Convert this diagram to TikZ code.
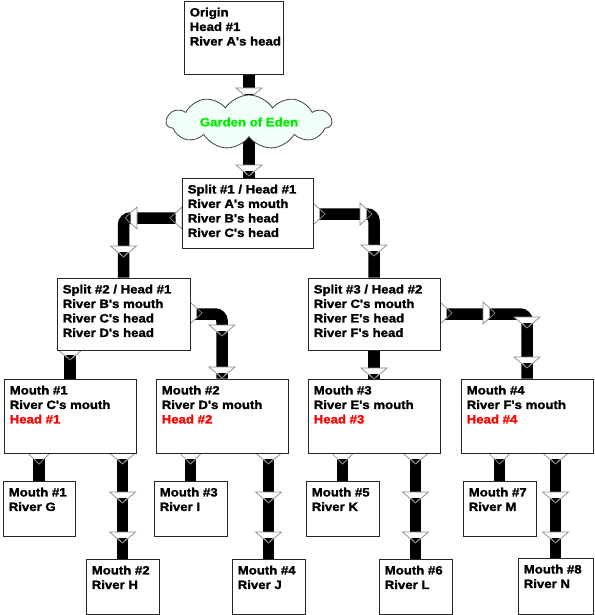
\documentclass[tikz,border=0pt]{standalone}
\usepackage{fontspec}
\setmainfont{Liberation Sans}
\newfontfamily\rf{Liberation Sans}[UprightFont=* Bold, BoldFont=* Bold, FakeStretch=1.1, FakeBold=1.6]
\usetikzlibrary{shapes.symbols}
\pgfdeclarelayer{bgpaper}
\pgfdeclarelayer{bars}
\pgfdeclarelayer{tris}
\pgfsetlayers{bgpaper,bars,tris,main}
\definecolor{edenfill}{HTML}{F2FFF8}
\definecolor{edengreen}{HTML}{00EE00}
\definecolor{trigray}{HTML}{8A8A8A}
\tikzset{
  boxst/.style={draw=black!85, line width=0.9pt, fill=white, rectangle, inner sep=0pt},
  txt/.style={inner sep=0pt, align=left, font=\rf\fontsize{12}{14.5}\selectfont},
  bar/.style={line width=11.5pt, black, rounded corners=7pt},
  tri/.style={fill=white, draw=trigray, line width=0.7pt, line join=miter},
}
% box: name, left x, top y, width, height, text
\newcommand\bx[6]{%
  \node[boxst, minimum width=#4pt, minimum height=#5pt] (#1) at (#2+#4/2,#3+#5/2) {};
  \node[txt, anchor=north west] (#1-t) at ([xshift=6pt,yshift=-7pt]#1.north west) {#6};}
% triangles: pointing down (x, top y, half width)
\newcommand\tdn[3]{%
  \filldraw[tri] (#1-#3,#2) -- (#1+#3,#2) -- (#1,#2+11) -- cycle;
  \fill[black] (#1-4.5,#2+6) -- (#1+4.5,#2+6) -- (#1,#2+10.4) -- cycle;}
% pointing right (tail x, centre y, half height)
\newcommand\trt[3]{%
  \filldraw[tri] (#1,#2-#3) -- (#1,#2+#3) -- (#1+12,#2) -- cycle;
  \fill[black] (#1+6.5,#2-4.5) -- (#1+6.5,#2+4.5) -- (#1+11.4,#2) -- cycle;}
% pointing left (tail x, centre y, half height)
\newcommand\tlt[3]{%
  \filldraw[tri] (#1,#2-#3) -- (#1,#2+#3) -- (#1-12,#2) -- cycle;
  \fill[black] (#1-6.5,#2-4.5) -- (#1-6.5,#2+4.5) -- (#1-11.4,#2) -- cycle;}
\newcommand\redh[1]{\textcolor{red}{#1}}
\begin{document}
\begin{tikzpicture}[x=1pt,y=-1pt]
\useasboundingbox (0,0) rectangle (594,615);
\begin{pgfonlayer}{bgpaper}
\fill[white] (0,0) rectangle (594,615);
\end{pgfonlayer}

\bx{origin}{184}{1}{99}{73}{Origin\\Head \#1\\River A's head}
\bx{split1}{182}{178}{131}{70}{Split \#1 / Head \#1\\River A's mouth\\River B's head\\River C's head}
\bx{split2}{57}{278}{133}{72}{Split \#2 / Head \#1\\River B's mouth\\River C's head\\River D's head}
\bx{split3}{308}{278}{132}{72}{Split \#3 / Head \#2\\River C's mouth\\River E's head\\River F's head}
\bx{mouth1}{4}{379}{132}{74}{Mouth \#1\\River C's mouth\\\redh{Head \#1}}
\bx{mouth2}{156}{379}{132}{74}{Mouth \#2\\River D's mouth\\\redh{Head \#2}}
\bx{mouth3}{308}{379}{132}{74}{Mouth \#3\\River E's mouth\\\redh{Head \#3}}
\bx{mouth4}{461}{379}{132}{74}{Mouth \#4\\River F's mouth\\\redh{Head \#4}}
\bx{g}{3}{481}{72}{55}{Mouth \#1\\River G}
\bx{h}{86}{559}{73}{55}{Mouth \#2\\River H}
\bx{i}{154}{481}{73}{55}{Mouth \#3\\River I}
\bx{j}{232}{559}{73}{55}{Mouth \#4\\River J}
\bx{k}{306}{481}{73}{55}{Mouth \#5\\River K}
\bx{l}{379}{559}{73}{55}{Mouth \#6\\River L}
\bx{m}{463}{481}{73}{55}{Mouth \#7\\River M}
\bx{n}{518}{558}{75}{56}{Mouth \#8\\River N}

\node[cloud, cloud puffs=11, cloud puff arc=115, aspect=3, draw=black!75, line width=0.8pt,
      fill=edenfill, minimum width=165pt, minimum height=54pt, inner sep=0pt] (cloud) at (249,122) {};
\node[inner sep=0pt, text=edengreen, font=\rf\fontsize{12}{14}\selectfont] (cloud-t) at (cloud.center) {Garden of Eden};

\begin{pgfonlayer}{bars}
\draw[bar] (origin.south -| cloud.north) -- (cloud.north);
\draw[bar] (cloud.south) -- (cloud.south |- split1.north);
\draw[bar] ([yshift=-5pt]split1.west) -| (split2.north);
\draw[bar] ([yshift=-1pt]split1.east) -| (split3.north);
\draw[bar] (split2.east) -| (mouth2.north);
\draw[bar] (mouth1.north |- split2.south) -- (mouth1.north);
\draw[bar] (split3.south) -- (mouth3.north);
\draw[bar] (split3.east) -| (mouth4.north);
\draw[bar] (g.north |- mouth1.south) -- (g.north);
\draw[bar] (h.north |- mouth1.south) -- (h.north);
\draw[bar] (i.north |- mouth2.south) -- (i.north);
\draw[bar] (j.north |- mouth2.south) -- (j.north);
\draw[bar] (k.north |- mouth3.south) -- (k.north);
\draw[bar] (l.north |- mouth3.south) -- (l.north);
\draw[bar] (m.north |- mouth4.south) -- (m.north);
\draw[bar] (n.north |- mouth4.south) -- (n.north);
\end{pgfonlayer}

\begin{pgfonlayer}{tris}
\tdn{249}{88}{13}
\tdn{249}{165}{13}
\tlt{182}{218}{11}
\tlt{137}{218}{11}
\tdn{123.5}{246}{13}
\trt{313}{214}{11}
\trt{360}{214}{11}
\tdn{374}{245}{13}
\tdn{70}{349}{13}
\trt{190}{313}{11}
\tdn{222}{325}{13}
\tdn{222}{367}{13}
\tdn{374}{368}{13}
\trt{440}{313}{11}
\trt{483}{313}{11}
\tdn{527}{317}{13}
\tdn{527}{357}{13}
% mouth level
\tdn{39}{453}{11}
\tdn{122.5}{453}{13}\tdn{122.5}{492}{13}\tdn{122.5}{532}{13}
\tdn{190.5}{453}{11}
\tdn{268.5}{453}{13}\tdn{268.5}{492}{13}\tdn{268.5}{532}{13}
\tdn{342.5}{453}{11}
\tdn{415.5}{453}{13}\tdn{415.5}{492}{13}\tdn{415.5}{532}{13}
\tdn{499.5}{453}{11}
\tdn{555.5}{453}{13}\tdn{555.5}{492}{13}\tdn{555.5}{532}{13}
\end{pgfonlayer}
\end{tikzpicture}
\end{document}
